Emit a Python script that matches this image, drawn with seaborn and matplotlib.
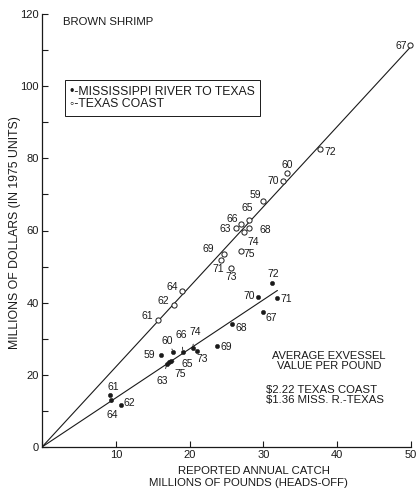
import matplotlib
matplotlib.use("Agg")
import matplotlib.pyplot as plt
import seaborn as sns
import pandas as pd

# ---------------- data ----------------
years = ['59', '60', '61', '62', '63', '64', '65', '66', '67',
         '68', '69', '70', '71', '72', '73', '74', '75']
texas_catch = [29.9, 33.2, 15.7, 17.9, 26.3, 19.0, 28.1, 27.0, 49.8,
               28.0, 24.6, 32.7, 24.2, 37.7, 25.6, 27.4, 27.0]
texas_value = [68.3, 75.8, 35.3, 39.4, 60.6, 43.3, 62.8, 61.9, 111.5,
               60.8, 53.6, 73.6, 51.9, 82.5, 49.7, 59.7, 54.2]
miss_catch = [16.1, 17.8, 9.2, 10.7, 16.9, 9.4, 17.5, 19.1, 29.9,
              25.8, 23.7, 29.3, 31.9, 31.2, 21.0, 20.4, 17.2]
miss_value = [25.6, 26.4, 14.4, 11.7, 23.0, 13.1, 23.9, 26.4, 37.5,
              34.2, 28.1, 41.7, 41.4, 45.5, 26.7, 27.5, 23.6]
price_per_pound = {'TEXAS COAST': 2.22, 'MISS. R.-TEXAS': 1.36}
x_ticks = [0, 10, 20, 30, 40, 50]
y_ticks = [0, 20, 40, 60, 80, 100, 120]

# ---------------- label offsets (screen pixels: dx right, dy down) ----------------
texas_off = {'59': (-7, -6), '60': (0, -8), '61': (-11, -4), '62': (-11, -4),
             '63': (-11, 1), '64': (-10, -4), '65': (-2, -12), '66': (-9, -5),
             '67': (-8, 1), '68': (17, 2), '69': (-15, -5), '70': (-10, 0),
             '71': (-2, 9), '72': (10, 3), '73': (0, 9), '74': (9, 10), '75': (8, 3)}
miss_off = {'59': (-11, 0), '60': (-6, -11), '61': (3, -8), '62': (8, -2),
            '63': (-4, 17), '64': (1, 15), '65': (16, 3), '66': (-2, -17),
            '67': (9, 6), '68': (9, 4), '69': (9, 1), '70': (-9, -1),
            '71': (9, 1), '72': (1, -9), '73': (5, 8), '74': (3, -16), '75': (11, 12)}
miss_leader = {'60', '66', '74', '65', '75', '63', '64'}

sns.set_theme(style="white")
plt.rcParams['font.family'] = ['Liberation Sans', 'DejaVu Sans']

fig = plt.figure(figsize=(4.16, 4.93), dpi=100)
ax = fig.add_axes([42 / 416, 46 / 493, 369 / 416, 433 / 493])

ink = '#1a1a1a'

# regression lines through origin (value = price * catch)
tx_line = pd.DataFrame({'x': [0, max(texas_catch)]})
tx_line['y'] = tx_line['x'] * price_per_pound['TEXAS COAST']
ms_line = pd.DataFrame({'x': [0, max(miss_catch)]})
ms_line['y'] = ms_line['x'] * price_per_pound['MISS. R.-TEXAS']
sns.lineplot(data=tx_line, x='x', y='y', ax=ax, color=ink, lw=0.8)
sns.lineplot(data=ms_line, x='x', y='y', ax=ax, color=ink, lw=0.8)

tx = pd.DataFrame({'catch': texas_catch, 'value': texas_value, 'year': years})
ms = pd.DataFrame({'catch': miss_catch, 'value': miss_value, 'year': years})
sns.scatterplot(data=tx, x='catch', y='value', ax=ax, marker='o', s=14,
                facecolor='white', edgecolor=ink, linewidth=0.7, zorder=3,
                clip_on=False)
sns.scatterplot(data=ms, x='catch', y='value', ax=ax, marker='o', s=10,
                color=ink, edgecolor=ink, linewidth=0.3, zorder=3)

for _, r in tx.iterrows():
    dx, dy = texas_off[r['year']]
    ax.annotate(r['year'], (r['catch'], r['value']), xytext=(dx, -dy),
                textcoords='offset pixels', ha='center', va='center',
                fontsize=7.5, color=ink)
for _, r in ms.iterrows():
    dx, dy = miss_off[r['year']]
    ap = None
    if r['year'] in miss_leader:
        ap = dict(arrowstyle='-', lw=0.6, color=ink, shrinkA=3, shrinkB=1.5)
    ax.annotate(r['year'], (r['catch'], r['value']), xytext=(dx, -dy),
                textcoords='offset pixels', ha='center', va='center',
                fontsize=7.5, color=ink, arrowprops=ap)

ax.set_xlim(0, 50)
ax.set_ylim(0, 120)
ax.set_xticks(x_ticks)
ax.set_xticklabels([''] + [str(v) for v in x_ticks[1:]])
ax.set_yticks(y_ticks)
ax.set_yticklabels([str(v) for v in y_ticks])
ax.set_yticks([v + 10 for v in y_ticks[:-1]], minor=True)
ax.tick_params(axis='both', which='both', direction='in', length=4, width=0.8,
               color=ink, labelsize=8, labelcolor=ink, pad=2.5)
ax.tick_params(axis='both', which='both', left=True, bottom=True)
for s in ['top', 'right']:
    ax.spines[s].set_visible(False)
for s in ['left', 'bottom']:
    ax.spines[s].set_color(ink)
    ax.spines[s].set_linewidth(0.9)
ax.set_xlabel('')
ax.set_ylabel('')

fig.text(254 / 416, 1 - 471 / 493, 'REPORTED ANNUAL CATCH', ha='center', va='center',
         fontsize=8.2, color=ink)
fig.text(248 / 416, 1 - 483 / 493, 'MILLIONS OF POUNDS (HEADS-OFF)', ha='center',
         va='center', fontsize=8.2, color=ink)
fig.text(15 / 416, 1 - 233 / 493, 'MILLIONS OF DOLLARS (IN 1975 UNITS)', rotation=90,
         ha='center', va='center', fontsize=8.8, color=ink)

fig.text(63 / 416, 1 - 22 / 493, 'BROWN SHRIMP', ha='left', va='center',
         fontsize=8.2, color=ink)

# legend box
fig.text(70 / 416, 1 - 98 / 493, '\u2022-MISSISSIPPI RIVER TO TEXAS\n\u25e6-TEXAS COAST',
         ha='left', va='center', fontsize=8.8, color=ink, linespacing=1.1,
         bbox=dict(boxstyle='square,pad=0.45', facecolor='white',
                   edgecolor=ink, linewidth=0.7))

fig.text(329 / 416, 1 - 361 / 493, 'AVERAGE EXVESSEL\nVALUE PER POUND', ha='center',
         va='center', fontsize=8, color=ink, linespacing=1.1)
fig.text(266 / 416, 1 - 395 / 493,
         '$%.2f %s\n$%.2f %s' % (price_per_pound['TEXAS COAST'], 'TEXAS COAST',
                                 price_per_pound['MISS. R.-TEXAS'], 'MISS. R.-TEXAS'),
         ha='left', va='center', fontsize=8.2, color=ink, linespacing=1.1)

fig.savefig('out.png', dpi=100)
